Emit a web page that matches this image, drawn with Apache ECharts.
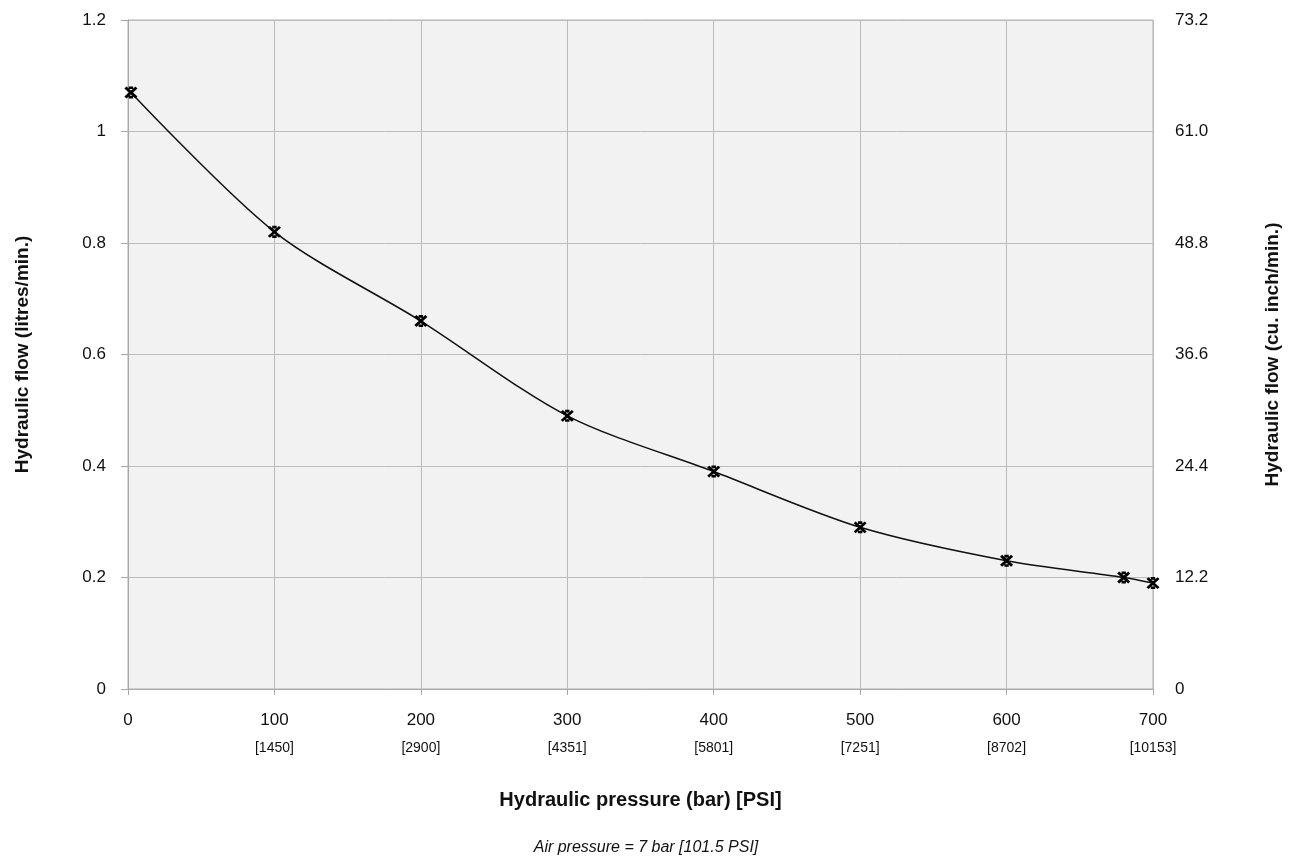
<!DOCTYPE html>
<html>
<head>
<meta charset="utf-8">
<script src="https://cdn.jsdelivr.net/npm/echarts@6/dist/echarts.min.js"></script>
<style>html,body{margin:0;padding:0;background:#fff;}#c{width:1292px;height:865px;}</style>
</head>
<body>
<div id="c"></div>
<script>
const pressureBar = [2, 100, 200, 300, 400, 500, 600, 680, 700];
const flowLitres = [1.07, 0.82, 0.66, 0.49, 0.39, 0.29, 0.23, 0.20, 0.19];
const xTickBar = [0, 100, 200, 300, 400, 500, 600, 700];
const xTickPsi = ['', '[1450]', '[2900]', '[4351]', '[5801]', '[7251]', '[8702]', '[10153]'];
const rightTicks = ['0', '12.2', '24.4', '36.6', '48.8', '61.0', '73.2'];

const FONT = '"Liberation Sans", Arial, sans-serif';
const chart = echarts.init(document.getElementById('c'));
const star = 'path://M0,0 L10,10 M10,0 L0,10 M3,0.3 L7,0.3 M3,9.7 L7,9.7';

chart.setOption({
  animation: false,
  textStyle: { fontFamily: FONT },
  title: {
    text: 'Air pressure = 7 bar [101.5 PSI]',
    left: 'center', top: 835,
    textStyle: { fontFamily: FONT, fontSize: 16, fontStyle: 'italic', fontWeight: 'normal', color: '#111' }
  },
  grid: {
    left: 128, right: 139, top: 20, bottom: 176,
    show: true, backgroundColor: '#f2f2f2', borderColor: '#b0b0b0', borderWidth: 1
  },
  xAxis: {
    type: 'value', min: 0, max: 700, interval: 100,
    name: 'Hydraulic pressure (bar) [PSI]', nameLocation: 'middle', nameGap: 101,
    nameTextStyle: { fontFamily: FONT, fontSize: 20, fontWeight: 'bold', color: '#111' },
    axisLine: { lineStyle: { color: '#a8a8a8' } },
    axisTick: { show: true, length: 6, lineStyle: { color: '#a8a8a8' } },
    splitLine: { show: true, lineStyle: { color: '#bcbcbc', width: 1 } },
    axisLabel: {
      margin: 16, color: '#111', fontSize: 17, fontFamily: FONT,
      formatter: function (v) {
        const i = xTickBar.indexOf(Math.round(v));
        const p = i >= 0 ? xTickPsi[i] : '';
        return p ? '{a|' + v + '}\n{b|' + p + '}' : '{a|' + v + '}';
      },
      rich: {
        a: { fontSize: 17, fontFamily: FONT, color: '#111', lineHeight: 30 },
        b: { fontSize: 14, fontFamily: FONT, color: '#111', lineHeight: 26 }
      }
    }
  },
  yAxis: [{
    type: 'value', min: 0, max: 1.2, interval: 0.2,
    name: 'Hydraulic flow (litres/min.)', nameLocation: 'middle', nameGap: 96,
    nameTextStyle: { fontFamily: FONT, fontSize: 19, fontWeight: 'bold', color: '#111' },
    axisLine: { show: true, lineStyle: { color: '#a8a8a8' } },
    axisTick: { show: true, length: 7, lineStyle: { color: '#a8a8a8' } },
    splitLine: { show: true, lineStyle: { color: '#bcbcbc', width: 1 } },
    axisLabel: { margin: 22, color: '#111', fontSize: 17, fontFamily: FONT }
  }, {
    type: 'value', min: 0, max: 1.2, interval: 0.2, position: 'right',
    name: 'Hydraulic flow (cu. inch/min.)', nameLocation: 'middle', nameGap: 110,
    nameTextStyle: { fontFamily: FONT, fontSize: 19, fontWeight: 'bold', color: '#111' },
    axisLine: { show: false }, axisTick: { show: false }, splitLine: { show: false },
    axisLabel: {
      margin: 22, color: '#111', fontSize: 17, fontFamily: FONT,
      formatter: function (v) { return rightTicks[Math.round(v / 0.2)] || ''; }
    }
  }],
  series: [{
    type: 'line', smooth: 0.3,
    data: pressureBar.map((x, i) => [x, flowLitres[i]]),
    symbol: star, symbolSize: [11, 10],
    lineStyle: { color: '#111', width: 1.5 },
    itemStyle: { color: 'none', borderColor: '#000', borderWidth: 2.8 }
  }]
});
</script>
</body>
</html>
